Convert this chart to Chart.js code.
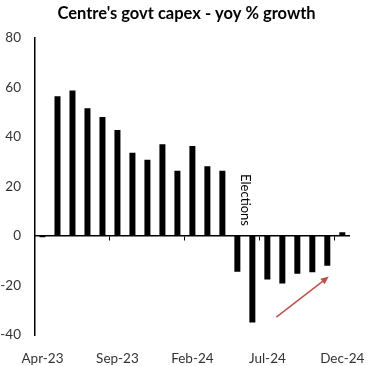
<!DOCTYPE html>
<html>
<head>
<meta charset="utf-8">
<script src="https://cdn.jsdelivr.net/npm/chart.js@4.4.1/dist/chart.umd.min.js"></script>
<style>
  html, body { margin: 0; padding: 0; background: #fff; }
  #wrap { width: 373px; height: 366px; }
</style>
</head>
<body>
<div id="wrap"><canvas id="myChart"></canvas></div>
<script>
// months and yoy % growth of centre's capex
const months = ['Apr-23', 'May-23', 'Jun-23', 'Jul-23', 'Aug-23', 'Sep-23', 'Oct-23', 'Nov-23', 'Dec-23',
  'Jan-24', 'Feb-24', 'Mar-24', 'Apr-24', 'May-24', 'Jun-24', 'Jul-24', 'Aug-24', 'Sep-24', 'Oct-24',
  'Nov-24', 'Dec-24'];
const growth = [-0.5, 56.4, 58.7, 51.6, 48, 42.8, 33.6, 30.8, 37, 26.3, 36.3, 28.1, 26.3,
  -14.5, -35, -17.6, -19.2, -15.3, -14.7, -12, 1.5];
const yTicks = [-40, -20, 0, 20, 40, 60, 80];

// note + arrow, placed in data units
const noteText = 'Elections';
const notePos = { x: 13.5, y: 14.5 };
const arrowFrom = { x: 15.6, y: -32.8 };
const arrowTo = { x: 19.1, y: -16.4 };

const FONT = 'Lato, "Liberation Sans", sans-serif';

const extras = {
  id: 'extras',
  afterDatasetsDraw(chart) {
    const ctx = chart.ctx;
    const xs = chart.scales.x, ys = chart.scales.y;
    // Elections label
    ctx.save();
    ctx.translate(xs.getPixelForValue(notePos.x), ys.getPixelForValue(notePos.y));
    ctx.rotate(Math.PI / 2);
    ctx.font = '13px ' + FONT;
    ctx.fillStyle = '#000';
    ctx.textAlign = 'center';
    ctx.textBaseline = 'middle';
    ctx.fillText(noteText, 0, 0);
    ctx.restore();

    // red arrow
    const x1 = xs.getPixelForValue(arrowFrom.x), y1 = ys.getPixelForValue(arrowFrom.y);
    const x2 = xs.getPixelForValue(arrowTo.x), y2 = ys.getPixelForValue(arrowTo.y);
    const ang = Math.atan2(y2 - y1, x2 - x1);
    ctx.save();
    ctx.strokeStyle = '#C0504D';
    ctx.fillStyle = '#C0504D';
    ctx.lineWidth = 1.5;
    ctx.beginPath();
    ctx.moveTo(x1, y1);
    ctx.lineTo(x2 - 5 * Math.cos(ang), y2 - 5 * Math.sin(ang));
    ctx.stroke();
    ctx.beginPath();
    ctx.moveTo(x2, y2);
    ctx.lineTo(x2 - 8 * Math.cos(ang) + 3.5 * Math.sin(ang), y2 - 8 * Math.sin(ang) - 3.5 * Math.cos(ang));
    ctx.lineTo(x2 - 8 * Math.cos(ang) - 3.5 * Math.sin(ang), y2 - 8 * Math.sin(ang) + 3.5 * Math.cos(ang));
    ctx.closePath();
    ctx.fill();
    ctx.restore();
  }
};

const ctx = document.getElementById('myChart').getContext('2d');
const myChart = new Chart(ctx, {
  type: 'bar',
  data: {
    labels: months,
    datasets: [{
      data: growth,
      backgroundColor: '#000',
      barPercentage: 0.4,
      categoryPercentage: 1.0,
      xAxisID: 'x'
    }]
  },
  options: {
    responsive: true,
    maintainAspectRatio: false,
    animation: false,
    layout: { padding: 0 },
    plugins: {
      legend: { display: false },
      tooltip: { enabled: false },
      title: {
        display: true,
        text: "Centre's govt capex - yoy % growth",
        color: '#000',
        font: { family: FONT, size: 16.5, weight: 'bold' },
        padding: { top: 4, bottom: 14 }
      }
    },
    scales: {
      y: {
        min: -40,
        max: 80,
        afterBuildTicks: (scale) => { scale.ticks = yTicks.map(v => ({ value: v })); },
        afterFit: (scale) => { scale.width = 35; },
        grid: { display: false },
        border: { display: true, color: '#000', width: 1.5 },
        ticks: { color: '#333', font: { family: FONT, size: 13.5 }, padding: 6 }
      },
      // empty right axis, only keeps the right margin
      yRight: {
        position: 'right',
        grid: { display: false },
        border: { display: false },
        ticks: { display: false },
        afterFit: (scale) => { scale.width = 23; }
      },
      x: {
        position: { y: 0 },
        grid: {
          offset: true,
          drawOnChartArea: false,
          tickLength: 4,
          color: (c) => (c.index > 0 && c.index % 5 === 0) ? '#000' : 'rgba(0,0,0,0)'
        },
        border: { display: true, color: '#000', width: 1.5 },
        ticks: { display: false }
      },
      x2: {
        type: 'category',
        position: 'bottom',
        offset: true,
        grid: { display: false },
        border: { display: false },
        afterFit: (scale) => { scale.height = 31; },
        ticks: {
          autoSkip: false,
          maxRotation: 0,
          color: '#333',
          font: { family: FONT, size: 13.5 },
          padding: 8,
          callback: function (value, index) {
            return index % 5 === 0 ? this.getLabelForValue(value) : '';
          }
        }
      }
    }
  },
  plugins: [extras]
});
</script>
</body>
</html>
